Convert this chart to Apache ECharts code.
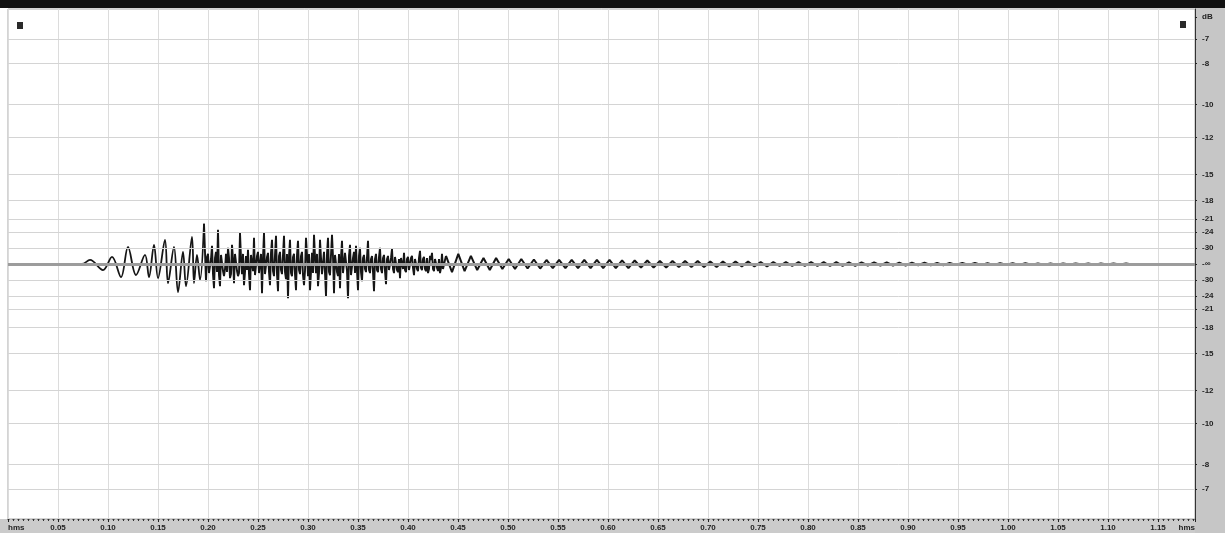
<!DOCTYPE html>
<html>
<head>
<meta charset="utf-8" />
<title>Waveform</title>
<style>
  html, body { margin: 0; padding: 0; background: #fff; }
  #main { width: 1225px; height: 533px; }
</style>
<script src="https://cdn.jsdelivr.net/npm/echarts@6/dist/echarts.min.js"></script>
</head>
<body>
<div id="main"></div>
<script>
// amplitude in thousandths of full scale, time in seconds

// onset: slow clean oscillation (peaks and troughs)
const startTimes = [0.054, 0.074, 0.082, 0.095, 0.104, 0.113, 0.120, 0.128, 0.137, 0.141, 0.146, 0.150,
  0.157, 0.160, 0.166, 0.170, 0.175, 0.178, 0.184, 0.186, 0.189, 0.192, 0.196];
const startValues = [0, 0, 8, -12, 14, -26, 34, -22, 18, -26, 38, -28,
  48, -38, 34, -56, 24, -44, 54, -38, 18, -32, 80];

// dense part, one sample every 2 ms (with the in-between samples below)
const denseStart = 0.198;
const denseStep = 0.002;
const denseValues = [
  -34, 20, -16, 36, -48, 24, 68, -44, 16, -24, 20, 32, -28, 38, -38, 18, -24, 62, -20, -42,
  16, 28, -52, 20, 52, -24, 24, -18, -58, 62, -20, 22, -42, 48, -24, 56, -54, 24, -20, 56,
  -30, -68, 48, -24, 20, -52, 46, -20, 24, -42, 52, -24, -52, 22, 58, -18, -44, 48, -20, 24,
  -64, 52, -22, 58, -58, 20, -24, -48, 46, -20, 24, -68, 38, -20, 24, 36, -52, 32, -34, 18,
  -16, 46, -18, 16, -54, 20, -16, 32, -18, 18, -40, 16, -14, 30, -18, 16, -16, -28, 14, 22,
  -16, 14, -14, 16, -22, 12, -14, 26, -12, 14, -14, -18, 16, 22, -14, 12, -14, -18, 20, -12, 16
];
const denseMid = [
  14, -18, 10, -20, 12, -16, -22, 18, -14, -10, -16, 12, -20, 10, 20, -14, -18, 12, 20, -16,
  -12, -20, 18, -14, -22, 16, -18, 20, 12, -20, 14, -16, 22, -14, 18, -20, 16, -12, 18, -16,
  20, 16, -18, 14, -20, 18, -12, 16, -22, -14, 18, 20, -16, -18, 16, 20, -18, 12, -20, -18,
  20, -16, -22, 14, 18, -16, 20, 14, -18, 22, -14, 16, -22, 12, -18, -14, 16, -16, 12, -10,
  14, -12, 10, -16, 10, -12, 14, -10, 12, -14, 10, -12, 12, -10, 14, -12, 10, 12, -10, -12,
  10, -12, 12, -8, 10, -10, 12, -8, 10, -10, 12, -10, 8, -10, 10, -8, 10, -8, -10, 8
];

// decaying tail, half periods of about 6.3 ms
const tailStart = 0.444;
const tailStep = 0.0063;
const tailValues = [
  -16, 20, -14, 16, -12, 12, -12, 12, -10, 10, -10, 10, -9, 9, -9, 8, -8, 8, -8, 8,
  -8, 8, -8, 8, -8, 8, -8, 7, -8, 7, -7, 7, -7, 6, -7, 6, -6, 6, -6, 6,
  -6, 5, -6, 5, -5, 5, -5, 5, -5, 4, -5, 4, -4, 4, -4, 4, -4, 4, -4, 3.6,
  -4, 3.6, -3.6, 3, -3.6, 3, -3, 3, -3, 3, -3, 2.4, -3, 2.4, -2.4, 2.4, -2.4, 2, -2.4, 2,
  -2, 2, -2, 2, -2, 1.6, -2, 1.6, -1.6, 1.6, -2, 1.6, -1.6, 1.2, -1.6, 1.2, -1.6, 1.2, -1.2, 1.2,
  -1.2, 1, -1.6, 1, -1, 0.8, -1, 0.8, -0.8, 0
];

// dB scale on the right
const dbLevels = [-7, -8, -10, -12, -15, -18, -21, -24, -30];

const onset = startTimes.map((t, i) => [t, startValues[i]]);
const body = [onset[onset.length - 1]];
denseValues.forEach((v, i) => {
  const t = denseStart + i * denseStep;
  body.push([t, v]);
  if (i < denseMid.length) body.push([t + denseStep / 2, denseMid[i]]);
});
const tail = [body[body.length - 1]];
tailValues.forEach((v, i) => tail.push([tailStart + i * tailStep, v]));

const dbToAmp = db => 1000 * Math.pow(10, db / 20);
const labelMap = {};
const labelValues = [490, 0];
labelMap[490] = 'dB';
labelMap[0] = '-\u221e';
dbLevels.forEach(db => {
  const a = +dbToAmp(db).toFixed(3);
  labelValues.push(a, -a);
  labelMap[a] = String(db);
  labelMap[-a] = String(db);
});

const gridLines = [];
dbLevels.forEach(db => {
  const a = dbToAmp(db);
  gridLines.push({ yAxis: a }, { yAxis: -a });
});
gridLines.push({ yAxis: 0, lineStyle: { color: '#9c9c9c', width: 3 } });

const chart = echarts.init(document.getElementById('main'));
chart.setOption({
  animation: false,
  backgroundColor: '#fff',
  grid: { left: 8, right: 30, top: 9, bottom: 14, show: true, borderColor: '#a8a8a8', borderWidth: 1 },
  graphic: [
    { type: 'rect', z: -10, shape: { x: 0, y: 519, width: 1225, height: 14 }, style: { fill: '#cbcbcb' } },
    { type: 'rect', z: -10, shape: { x: 1195, y: 0, width: 30, height: 533 }, style: { fill: '#c6c6c6' } },
    { type: 'rect', z: 10, shape: { x: 0, y: 0, width: 1225, height: 8 }, style: { fill: '#111' } },
    { type: 'rect', z: 10, shape: { x: 17, y: 22, width: 6, height: 7 }, style: { fill: '#2a2a2a' } },
    { type: 'rect', z: 10, shape: { x: 1180, y: 21, width: 6, height: 7 }, style: { fill: '#2a2a2a' } }
  ],
  xAxis: {
    type: 'value',
    min: 0,
    max: 1.187,
    interval: 0.05,
    position: 'bottom',
    axisLine: { show: true, onZero: false, lineStyle: { color: '#222', width: 1, type: [1, 4] } },
    axisTick: { show: true, length: 3, lineStyle: { color: '#222' } },
    minorTick: { show: true, splitNumber: 10, length: 2, lineStyle: { color: '#333' } },
    axisLabel: {
      margin: 5,
      fontSize: 8,
      fontWeight: 'bold',
      fontFamily: 'Liberation Sans',
      color: '#222',
      showMinLabel: true,
      showMaxLabel: true,
      alignMinLabel: 'left',
      alignMaxLabel: 'right',
      formatter: v => (v === 0 || v > 1.16) ? 'hms' : v.toFixed(2)
    },
    splitLine: { show: true, lineStyle: { color: '#dcdcdc', width: 1 } }
  },
  yAxis: {
    type: 'value',
    position: 'right',
    min: -506,
    max: 506,
    axisLine: { show: true, onZero: false, lineStyle: { color: '#333', width: 1 } },
    axisTick: { show: true, customValues: labelValues, length: 2, lineStyle: { color: '#222' } },
    axisLabel: {
      customValues: labelValues,
      margin: 7,
      fontSize: 8,
      fontWeight: 'bold',
      fontFamily: 'Liberation Sans',
      color: '#222',
      formatter: v => labelMap[+(+v).toFixed(3)] || ''
    },
    splitLine: { show: false }
  },
  series: [
    {
      type: 'line',
      z: 1,
      data: [],
      markLine: {
        silent: true,
        symbol: 'none',
        label: { show: false },
        lineStyle: { color: '#d4d4d4', width: 1, type: 'solid' },
        data: gridLines
      }
    },
    {
      type: 'line',
      z: 3,
      data: onset,
      smooth: 0.35,
      showSymbol: false,
      lineStyle: { color: '#161616', width: 1.8 }
    },
    {
      type: 'line',
      z: 3,
      data: body,
      showSymbol: false,
      lineStyle: { color: '#161616', width: 1.9 }
    },
    {
      type: 'line',
      z: 3,
      data: tail,
      showSymbol: false,
      lineStyle: { color: '#161616', width: 2 }
    }
  ]
});
</script>
</body>
</html>
